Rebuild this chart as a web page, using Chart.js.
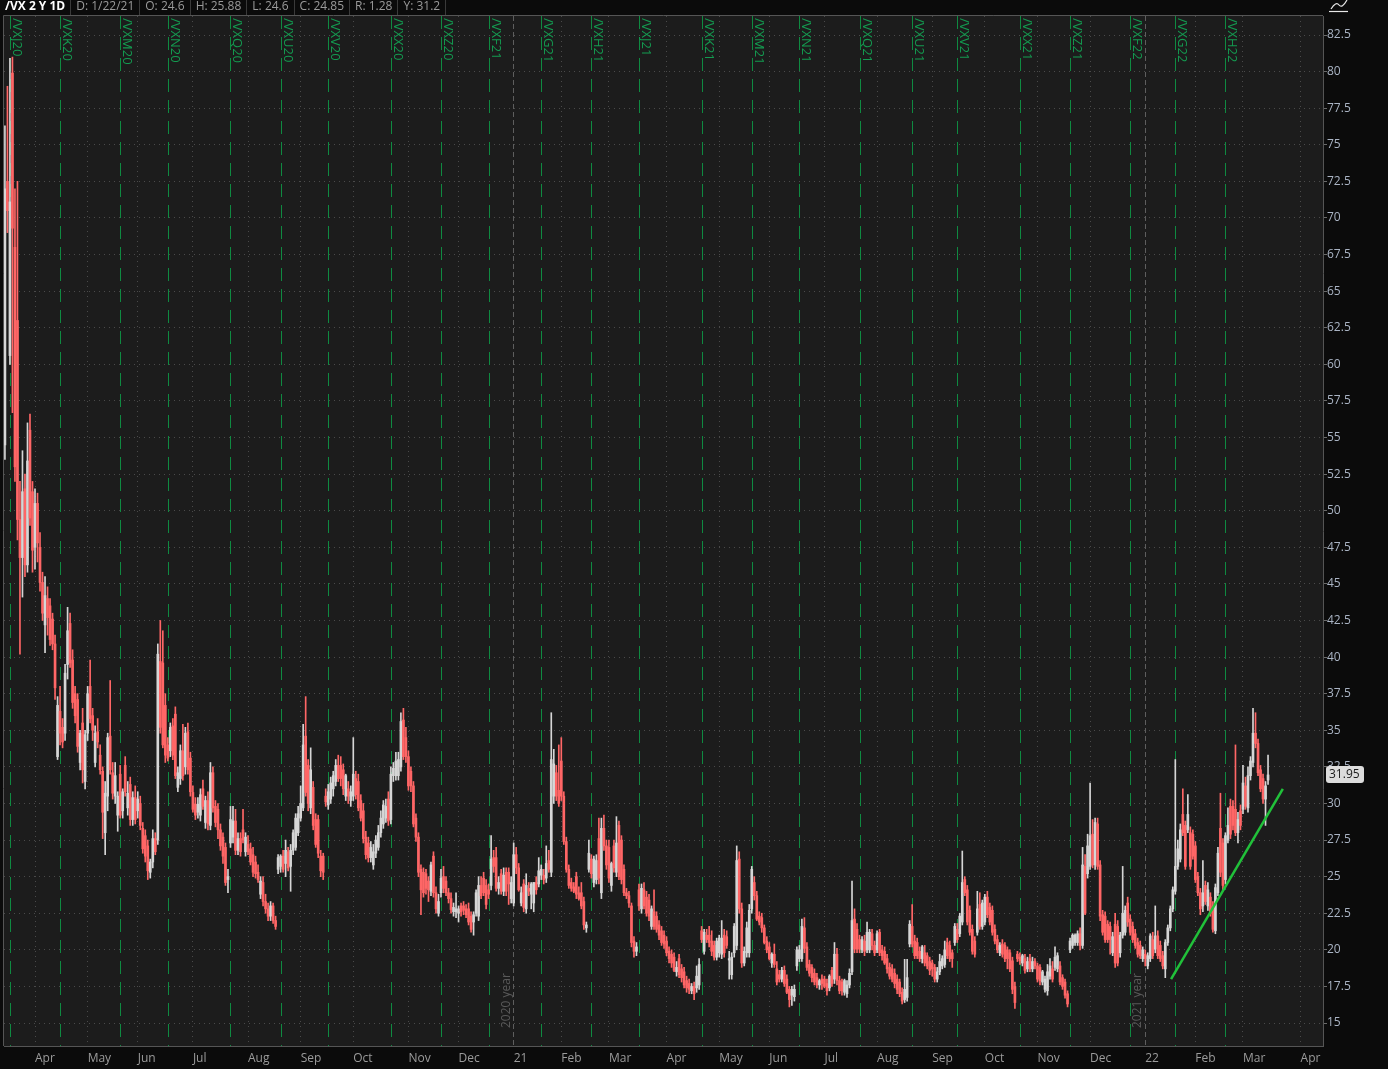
<!DOCTYPE html>
<html>
<head>
<meta charset="utf-8">
<title>/VX 2 Y 1D</title>
<script src="https://cdn.jsdelivr.net/npm/chart.js@4.4.1/dist/chart.umd.min.js"></script>
<style>
  html, body { margin: 0; padding: 0; background: #0b0b0b; overflow: hidden; }
  #wrap { width: 1388px; height: 1069px; position: relative; }
</style>
</head>
<body>
<div id="wrap"><canvas id="vxChart"></canvas></div>
<script>
// daily candles, [open, high, low, close], one per trading day from 3/16/20
const ohlc = [
  // Mar 2020
  [54.5,76.3,53.5,72],[72.5,79,69,70.5],[60.6,80.9,60,71.1],[79.9,81,56.7,69.3],[68,72,52,53],[63,72.5,48,49.4],
  [49.4,52,40.2,46.8],[46.8,54.1,44.1,51.3],[51.5,52.5,45.5,46.3],[46.3,56,45.8,53.4],[55.5,56.6,49,49.5],[51.3,52,45.8,47.3],
  // Apr
  [47.5,51.5,46,50.5],[50.5,51.2,46.5,47.8],[47.5,48.5,44.5,45.1],[45.1,45.8,42.5,43],[42.2,45.5,40.3,44.2],[44,44.8,41.5,42.7],
  [43.5,44,40.8,41.2],[42.6,43,40.5,40.9],[40.9,41.5,37.1,37.9],[33.2,37.3,33,36.7],[36.3,38,34,34.8],[35.2,35.8,33.8,34.2],
  [34.8,39.5,34.3,38.9],[39.5,43.4,38.5,41.8],[42.3,43,39.3,39.6],[39.8,40.5,36.5,36.9],[37.5,38,35.5,36],[37.1,37.5,33.5,33.9],
  [32.8,35,32.3,34.8],[35.5,36.5,31.4,32.3],[31.5,35,31,34.7],
  // May
  [34.8,38,34.3,37.5],[38,39.8,35.5,35.8],[36,36.5,34.3,35],[32.8,35.3,32.5,34.8],[34.9,35.8,33.8,34.2],[33.3,34,32,32.3],
  [32.2,32.5,27.6,29.4],[28,31.5,26.5,30.7],[30.5,34.8,29.5,34.5],[34.6,38.4,32,32.3],[32.1,32.8,30.3,30.7],[30.5,32.8,30,31.9],
  [29.2,30.8,28.1,30.5],[32,32.6,29,29.2],[29.5,31,29,30.8],[32.6,33.2,30.5,30.8],[29.7,31.5,29.2,30.7],[31.3,31.8,28.5,28.9],
  [28.9,30.8,28.5,30.4],[30.4,31.2,28.6,28.9],
  // Jun
  [29.5,30.8,29,30.3],[30,30.5,28.2,28.5],[28.3,28.7,26.6,26.9],[27.8,28.2,26,26.4],[27.1,27.5,24.8,25.4],[25.3,26.2,24.9,26],
  [26,28.2,25.6,27.6],[27.6,28,26.5,26.7],[27.5,40.9,27.2,40.2],[39.7,42.5,34.8,35.2],[39.6,41.8,33.8,34],[36.7,37.5,32.8,33.3],
  [34,34.5,32.9,33.1],[33.6,35.5,33.2,35.2],[35.3,35.8,33,33.3],[36.1,36.6,31.7,31.9],[31.1,32.5,30.8,32.1],[31.7,34,31.3,33.6],
  [33.6,35.4,31.6,31.9],[32.5,35.2,32,34.8],[34.9,35.5,32,32.3],[33.1,33.5,30.5,30.8],
  // Jul
  [30.75,31.2,29.4,29.6],[29.95,30.4,28.9,29.2],[29.4,30.4,29,29.95],[29.2,31,28.8,30.6],[31,31.6,29.6,29.8],[28.7,30.5,28.3,30.2],
  [30.2,30.8,28.2,28.6],[28.5,32.8,28.2,32.1],[32.1,32.5,29.4,29.7],[29.8,30.2,28.4,28.7],[29.6,30,27.6,28.2],[28.2,28.6,26.8,27.1],
  [27.7,28,25.9,26.4],[27,27.3,24.4,24.6],[24.8,25.5,23.9,25],[27.3,29.8,27,28.9],[27.7,29.8,27.3,28.8],[28.8,29.6,26.5,26.8],
  [26.8,28,26.5,27.6],[27.6,28,26.4,26.7],[28.2,29.6,27.3,27.5],[26.7,28,26.4,27.7],
  // Aug
  [27.2,27.8,26.5,26.7],[26.9,27.3,25.8,26],[26.5,27,25,25.3],[26,26.4,24.9,25.2],[25.3,25.8,24.6,24.8],[23.8,25,23.5,24.7],
  [24.6,25,23,23.3],[23.3,23.8,22.5,22.8],[22.8,23.2,22,22.3],[22.3,23.3,22,23],[23,23.2,21.8,22],[22,22.3,21.4,21.6],
  [25.5,26.5,25.2,26.3],[25.7,26.5,25.3,26.4],[26.4,26.8,25.3,25.5],[25.9,27.5,25,26.8],[26.7,27,25.4,25.6],[25.7,27.2,24,26.8],
  [26.8,28.2,26.5,28],[27,29.3,26.8,29],[28,29.8,27.8,29.3],
  // Sep
  [29,31.2,28.8,30],[29.7,35.4,29.5,34],[34.6,37.3,30.5,30.75],[32.6,33,29.5,30],[29.7,33.8,29.3,32.3],[31.1,31.5,28.2,28.5],
  [28.9,29.3,27,27.2],[28.9,29.2,26.3,26.6],[26.4,26.8,25,25.4],[26.4,26.6,24.8,25.3],[30.5,31,29.8,30.1],[29.9,31.3,29.6,30.8],
  [30.3,31.8,30,31.4],[31,32.2,30.5,31.9],[31.5,33,31.2,32.6],[32.6,33.3,31.5,31.7],[32.6,33.2,31.2,31.7],[32.3,32.7,30.6,31],
  [30.5,32,30.2,31.9],[31,31.5,30,30.5],[30.2,31.2,29.8,30.8],
  // Oct
  [30.5,34.5,30.2,32],[31.7,32.2,30.3,30.6],[31.5,32,29.5,29.7],[30.2,30.6,28.8,29],[29.5,30,27.3,27.6],[27.7,28.1,26.2,26.5],
  [27.3,27.7,26,26.3],[26.3,27.4,26,27],[25.8,27.2,25.5,26.7],[26.6,27.8,26.3,27.5],[27,28.5,26.8,28],[28,29.5,27.7,29],
  [28.6,30.2,28.3,29.9],[29,30.3,28.7,29.8],[30.3,30.8,28.5,28.8],[28.9,32.5,28.6,32],[31.9,32.8,31.5,32.4],[31.9,33.5,31.6,32.9],
  [31.9,33.5,31.6,33],[32.5,36.2,32.2,35.6],[35.7,36.5,33,33.2],[34.5,35.2,32.8,33.2],
  // Nov
  [33.2,33.6,30.9,31.2],[32.2,32.5,30.8,31.2],[31.2,31.5,28.4,28.6],[29,29.3,27.4,27.7],[27.7,28,25,25.3],[25.5,25.8,22.4,24.1],
  [25.3,25.6,23.6,23.9],[25.2,25.5,23.8,24.2],[24.7,25,23.3,24.1],[24,26,23.7,25.8],[26.4,26.7,23.6,23.9],[23.9,24.3,22.5,22.8],
  [22.5,23.8,22.3,23.3],[23.9,25.5,23.6,24.9],[25,25.7,23.9,24.2],[24.7,25,23.7,23.9],[23.9,24.2,23.2,23.5],[23.5,23.9,22.5,22.75],
  [22.6,23.2,22.3,22.9],[22.6,23.9,22.2,22.8],
  // Dec
  [22.5,23,21.9,22.8],[23,23.2,22.3,22.6],[23,23.3,22.4,22.7],[22.8,23.1,22.2,22.4],[22.8,23.2,21.7,21.9],[22.3,22.6,21.2,21.4],
  [21.9,22.6,21,22.4],[22.5,24.1,22.3,23.9],[22.3,25,22,24.4],[24.4,25,23.5,23.7],[24.9,25.3,23.7,23.9],[24.4,24.8,22.8,23.1],
  [24.1,24.5,23.5,23.8],[24.4,27.8,24.1,26.2],[26.3,26.8,25.3,25.7],[26.3,27,24,24.2],[24.2,25,23.8,24.6],[25.2,25.5,23.8,24],
  [24,25.6,23.7,25.1],[25.3,25.6,23.7,24],[25.3,25.6,23.1,24.5],[23.5,25,23.2,24.6],
  // Jan 2021
  [23.2,27.3,23,26.5],[26.5,27,25.2,25.6],[25.6,25.9,24,24.1],[23.2,24.3,23,23.9],[24.5,24.8,22.6,22.9],[22.8,25.2,22.5,24.4],
  [24.2,24.6,23.7,24],[23.8,24.6,22.8,24.5],[23.2,24.6,22.6,24.6],[24.6,25,23.8,24.1],[24.5,26.3,24.3,25.4],[25.1,25.8,24.8,25.5],
  [25.1,25.5,24.5,24.8],[24.9,27.1,24.6,25.9],[26.1,26.8,25.3,25.5],[25.3,36.2,25,33],[30.5,33.7,30,32.7],[32.1,32.6,30.2,30.5],
  [30.9,34,29.8,30],
  // Feb
  [32.9,34.5,30.2,30.5],[30.5,30.8,27.2,27.4],[27.4,27.7,25.3,25.5],[25.5,25.8,24.2,24.4],[24.6,24.9,24,24.2],[24.3,24.6,23.9,24],
  [25,25.3,23.5,23.8],[23.9,24.3,23.4,23.5],[23.9,24.6,22.8,23],[23.3,23.6,21.4,21.7],[21.5,21.9,21.2,21.7],[25.5,27.5,25.3,26.6],
  [26.2,26.5,24.9,25.2],[24.6,26.4,24.3,26.2],[24.8,26.5,24.5,26.1],[27.6,29,24.5,24.9],[23.9,29,23.5,28.3],[28.3,29.2,26.8,27.1],
  [27.1,27.5,25.5,25.8],
  // Mar
  [27,27.5,24.6,24.9],[24.4,26,24,25.9],[27.1,27.5,25.3,25.6],[25.3,29.1,25,27.3],[28.5,28.8,24.8,25],[27.5,27.8,24.5,24.8],
  [25.5,25.8,23.7,23.9],[23.9,24.2,23.5,23.7],[23.7,24,22.9,23.2],[23,23.2,20.2,20.5],[20.6,20.9,19.5,19.9],[19.9,20.5,19.6,20.2],
  [24.1,24.5,22.7,23],[22.8,24.5,22.5,24.2],[24.1,24.6,22.8,23],[23.6,24,22.3,22.5],[23.4,23.8,22,22.3],[21.6,23,21.4,22.8],
  [22.6,24.1,21.4,21.6],[22.3,22.6,21.2,21.4],[21.7,22,20.7,21],[21.3,21.6,20.3,20.5],[21,21.3,20.1,20.4],
  // Apr
  [20.6,20.9,19.6,19.8],[19.9,20.2,19.1,19.4],[19.7,20,18.8,19.1],[19.5,19.8,18.5,18.6],[18.5,19.2,18.2,18.8],[19.4,19.7,18.1,18.3],
  [18.7,19,17.8,18.1],[18.5,18.8,17.4,17.6],[17.9,18.2,17.1,17.4],[17.7,18,17,17.3],[17.2,17.7,17,17.5],[17.5,17.8,16.6,17],
  [17.4,18.9,17.1,18.2],[17.6,19.4,17.3,19],[21.3,21.6,20.5,20.7],[19.9,21.4,19.7,21.2],[21,21.4,20.5,20.7],[21,21.6,20.2,20.5],
  [20.6,21.3,19.6,19.9],[20.3,20.6,19.3,19.5],[19.5,20.8,19.3,20.6],
  // May
  [19.8,21,19.5,20.8],[19.7,22,19.4,20.8],[21,21.4,19.5,19.8],[20.9,21.3,20.1,20.3],[19.3,19.9,18,19.4],[18.3,19.8,18,19.5],
  [19.8,21.8,19.5,21.6],[20.3,27.1,20,26.1],[26.2,26.7,22.5,22.8],[22.8,23.2,18.8,19.1],[19.1,20.2,18.9,19.9],[19.8,21.9,19.5,21.5],
  [19.8,23.1,19.5,22.7],[22.8,25.7,22.5,25.5],[24.6,25,23.4,23.7],[23.7,24,22,22.1],[22.3,22.6,21.7,21.9],[22.2,22.5,21.2,21.5],
  [21.5,21.7,20.4,20.5],[20.6,20.9,19.8,20],
  // Jun
  [20.2,20.5,19.3,19.4],[19.1,19.8,18.8,19.7],[19.7,20.4,18.8,19],[18.7,19.2,17.6,17.8],[18.3,18.6,17.8,18],[18,18.8,17.8,18.6],
  [18.6,18.9,17.5,17.7],[18,18.3,17,17.1],[17.3,17.5,16.1,16.6],[16.9,17.5,16.2,17.3],[16.8,17.6,16.5,17.3],[18.9,20.2,18.6,20],
  [19.4,20.3,19.2,20],[19.4,22.1,19.2,21.6],[21.5,22.2,19.8,20.1],[20.2,20.5,18.6,18.8],[19,19.3,18.2,18.4],[18.8,19,17.8,18.1],
  [18.4,18.7,17.6,17.8],[18.1,18.4,17.4,17.6],[17.6,18,17.3,17.9],[18,18.3,17.3,17.7],
  // Jul
  [18,18.2,17.4,17.5],[17.7,18,16.9,17.2],[17.4,18.3,17.2,18.2],[18.6,18.8,17.5,17.7],[18,20.5,17.7,19.7],[19.7,20.1,17.6,17.9],
  [17.9,18.2,17,17.2],[17.8,18,16.9,17.2],[17.1,18,16.9,17.9],[17,17.9,16.75,17.6],[17.6,18.7,17.4,18.4],[18.5,24.7,18.3,22],
  [22.1,22.8,19.8,20.05],[21.4,21.8,19.8,20.05],[20.7,21,19.8,20.05],[20,20.9,19.8,20.7],[20.6,21,19.6,19.9],[20,21.9,19.8,21.2],
  [20,21.4,19.8,21.2],[21.1,21.4,20,20.3],[20.3,20.6,19.6,19.8],
  // Aug
  [20,21.3,19.8,21.1],[21.2,21.4,19.6,19.8],[20,20.3,19.3,19.6],[19.9,20.2,19,19.1],[19.4,19.7,18.4,18.7],[18.8,19.1,18,18.2],
  [18.7,19,17.8,18],[18.4,18.7,17.4,17.7],[18,18.3,17,17.3],[17.8,18,16.8,17],[17.1,17.4,16.3,16.5],[16.6,19.35,16.4,17.3],
  [16.75,19.35,16.5,18.1],[20.4,22,20.2,21.75],[21.6,23.1,20.2,20.4],[20.6,21,19.4,19.6],[20.5,20.8,19.4,19.6],[19.9,20.2,19.2,19.4],
  [19.4,20.3,19.1,20.2],[19.8,20.3,18.9,19.1],[19.6,19.8,18.7,18.9],[19.2,19.5,18.3,18.6],
  // Sep
  [19.1,19.3,18.2,18.7],[18.8,19,17.8,18],[18,18.8,17.8,18.5],[18.5,19.7,18.3,19.2],[18.9,19.6,18.7,19.4],[19,20.6,18.8,20],
  [20.5,20.8,19.4,19.6],[20.3,20.6,19.2,19.4],[19.8,20,18.8,19.4],[20.5,21.8,20.3,21.6],[21.4,21.8,20.5,20.7],[21.1,22.5,20.9,22.3],
  [21.9,26.75,21.7,24.6],[24.8,25,23.7,23.9],[24.1,24.4,21.7,21.9],[22.7,23,21,21.2],[21.4,21.7,19.7,19.9],[20.6,20.9,19.5,19.7],
  [21.2,24,21,22.8],[23.1,23.9,21.4,21.6],[21.6,23.4,21.4,23.2],
  // Oct
  [21.9,23.8,21.7,23.6],[23.6,24,22.2,22.4],[22.9,23.2,21.7,21.9],[22.7,23,21,21.2],[21.4,21.7,20.4,20.6],[20.7,21,19.8,20],
  [19.8,20.5,19.6,20.3],[20.4,20.7,19.5,19.7],[20.3,20.5,19.2,19.4],[20,20.2,18.7,19.4],[19.8,20,18.5,18.7],[19.25,19.5,17,17.3],
  [17.5,17.8,16,16.4],[19.7,19.9,19.2,19.4],[19.5,19.8,19,19.25],[19.1,19.7,18.9,19.6],[19.4,19.7,18.4,18.6],[18.7,19.5,18.5,19.2],
  [19.4,19.7,18.5,18.7],[18.7,19.5,18.5,19.2],[19.2,19.4,18.7,18.9],
  // Nov
  [18.9,19.1,17.8,18],[18.8,19,17.6,17.9],[17.8,18.6,17.6,18.5],[17.3,18.2,17.1,18],[17.2,19,16.9,18.5],[18.2,19.4,18,18.9],
  [18.7,19.2,17.8,18],[18.8,20.2,18.6,19.5],[18.7,19.8,18.5,19.6],[18.9,19.2,17.6,17.8],[18.1,18.3,17.3,17.5],[17.8,18,16.7,16.9],
  [17,17.2,16.1,16.3],[20,20.8,19.8,20.6],[20.3,21.1,20.1,21],[20.5,21.1,20.3,21],[20.5,21.3,20.3,21.1],[21.1,21.5,20,20.3],
  [20.3,27,20.1,25.8],[25.7,26.5,22.4,22.5],[25.2,27.9,24.9,27.1],
  // Dec
  [25.7,31.4,25.5,27.8],[27.9,28.9,25.6,25.8],[25.8,29,25.5,28.7],[28.6,29,25.5,25.7],[25.8,26.1,22,22.3],[22.4,22.7,21,21.2],
  [22.3,22.6,20.5,20.7],[21.75,22,20.5,20.7],[21.6,21.9,19.7,20.7],[19.8,21.2,19.6,20.9],[21.75,22.5,18.8,19.1],[21.6,22,18.9,19.1],
  [19.8,21.2,19.5,21],[21,25.7,20.8,22.5],[21.2,23,21,22.7],[23.2,23.6,21.6,21.9],[22.1,22.4,21,21.2],[21.6,21.9,20.5,20.7],
  [21.1,21.4,20.1,20.3],[20.5,20.8,19.5,19.7],[20.3,20.6,19.4,19.6],[19.4,20.2,19.2,20],
  // Jan 2022
  [19.7,20,18.9,19.4],[18.9,19.8,18.7,19.6],[19.4,21.1,19.2,20.95],[20.7,21.2,19.4,19.6],[20.05,23,19.8,20.95],[20.95,21.3,19.4,19.6],
  [20.3,20.6,19.2,19.4],[19.6,19.9,18.7,18.9],[18.7,20.7,18.1,20.5],[20.5,21.7,20.3,21.5],[21.5,23,21.3,22.8],[22.8,24.3,22.6,24.1],
  [24,33,23.8,25.7],[25.7,27.5,25.5,26.9],[26.2,28.6,26,28.2],[29.25,31,27.8,28],[28.5,28.8,25.5,25.7],[28.2,30.6,28,29.25],
  [28,28.4,25.5,25.7],[27.9,28.2,26.2,26.4],
  // Feb
  [27.1,27.4,24.6,24.8],[25,25.3,23.7,23.9],[23.9,24.2,22.4,22.8],[23,26.1,22.6,23.9],[24.4,24.7,23.1,23.3],[23,24.6,22.7,24.1],
  [23.6,23.9,22.3,22.5],[23,23.3,21.2,21.4],[21.3,24.5,21.1,24.25],[23.9,27,23.7,26.6],[28.3,30.7,25,25.3],[27.3,27.6,24.1,24.4],
  [24.8,28,24.5,27.8],[27.5,29.7,27.3,28.5],[29.8,30.3,27.6,27.9],[29.8,30.2,28.2,28.5],[29.6,34,27.8,28],[28,29.4,27.3,28.9],
  [29.5,29.9,28.2,28.5],
  // Mar
  [29.6,32.6,29.3,31.4],[31.2,31.8,29.6,29.8],[29.7,32.5,29.4,31.9],[31.9,33.2,31.6,32.9],[32.8,36.5,32.5,34.8],[34.8,36.2,33.8,34.1],
  [34.1,34.4,31.9,32.1],[32.3,32.6,30.8,31],[31.7,32,30,30.3],[30.3,31.5,28.5,31.2],[31.6,33.3,31.3,31.95]
];

// first trading day of each month (candle index) and its label
const monthIdx = [12, 33, 53, 75, 97, 118, 139, 161, 181, 203, 222, 241, 264, 285, 305, 327, 348, 370, 391, 412, 433, 455, 475, 494, 517];
const monthLabels = ['Apr', 'May', 'Jun', 'Jul', 'Aug', 'Sep', 'Oct', 'Nov', 'Dec', '21', 'Feb', 'Mar', 'Apr', 'May', 'Jun', 'Jul', 'Aug', 'Sep', 'Oct', 'Nov', 'Dec', '22', 'Feb', 'Mar', 'Apr'];

// futures expirations
const expiryIdx = [2, 22, 46, 65, 90, 110, 129, 154, 174, 193, 214, 234, 253, 278, 298, 317, 341, 362, 380, 405, 425, 449, 467, 487];
const expiryLabels = ['/VXJ20', '/VXK20', '/VXM20', '/VXN20', '/VXQ20', '/VXU20', '/VXV20', '/VXX20', '/VXZ20', '/VXF21', '/VXG21', '/VXH21',
  '/VXJ21', '/VXK21', '/VXM21', '/VXN21', '/VXQ21', '/VXU21', '/VXV21', '/VXX21', '/VXZ21', '/VXF22', '/VXG22', '/VXH22'];

const yearIdx = [203, 455];
const yearLabels = ['2020 year', '2021 year'];

const priceTicks = [15, 17.5, 20, 22.5, 25, 27.5, 30, 32.5, 35, 37.5, 40, 42.5, 45, 47.5, 50, 52.5, 55, 57.5, 60, 62.5, 65, 67.5, 70, 72.5, 75, 77.5, 80, 82.5];

const trendLine = [{x: 465.3, y: 18.0}, {x: 509.9, y: 31.0}];

const headerCells = ['/VX 2 Y 1D', 'D: 1/22/21', 'O: 24.6', 'H: 25.88', 'L: 24.6', 'C: 24.85', 'R: 1.28', 'Y: 31.2'];
const lastPrice = 31.95;

const UP = '#d6d6d6';
const DOWN = '#ff6666';
const FONT = '"Open Sans", "DejaVu Sans", sans-serif';

const candleColors = ohlc.map(d => d[3] >= d[0] ? UP : DOWN);
const wicks = ohlc.map((d, i) => ({x: i, y: [d[2], d[1]]}));
const bodies = ohlc.map((d, i) => ({x: i, y: [Math.min(d[0], d[3]), Math.max(d[0], d[3])]}));

const chartDecor = {
    id: 'chartDecor',
    beforeDraw(chart) {
        const {ctx, chartArea: a, width, height} = chart;
        ctx.save();
        ctx.fillStyle = '#0b0b0b';
        ctx.fillRect(0, 0, width, height);
        ctx.fillStyle = '#1c1c1c';
        ctx.fillRect(a.left, a.top, a.right - a.left, a.bottom - a.top);
        ctx.restore();
    },
    beforeDatasetsDraw(chart) {
        const {ctx, chartArea: a} = chart;
        const x = chart.scales.x;
        ctx.save();
        ctx.beginPath();
        ctx.rect(a.left, a.top, a.right - a.left, a.bottom - a.top);
        ctx.clip();

        // expiration lines
        ctx.strokeStyle = '#0f8a41';
        ctx.lineWidth = 1;
        ctx.setLineDash([13, 8]);
        expiryIdx.forEach(v => {
            const px = Math.round(x.getPixelForValue(v)) + 0.5;
            ctx.beginPath();
            ctx.moveTo(px, a.top);
            ctx.lineTo(px, a.bottom);
            ctx.stroke();
        });
        ctx.setLineDash([]);

        ctx.font = '13px ' + FONT;
        ctx.textAlign = 'left';
        ctx.textBaseline = 'middle';
        ctx.fillStyle = '#149a50';
        expiryIdx.forEach((v, k) => {
            const px = Math.round(x.getPixelForValue(v));
            ctx.save();
            ctx.translate(px + 7, a.top + 2);
            ctx.rotate(Math.PI / 2);
            ctx.fillText(expiryLabels[k], 0, 0);
            ctx.restore();
        });

        // year labels
        ctx.font = '12px ' + FONT;
        ctx.fillStyle = '#595959';
        yearIdx.forEach((v, k) => {
            const px = Math.round(x.getPixelForValue(v));
            ctx.save();
            ctx.translate(px - 7, a.bottom - 18);
            ctx.rotate(-Math.PI / 2);
            ctx.fillText(yearLabels[k], 0, 0);
            ctx.restore();
        });
        ctx.restore();
    },
    afterDraw(chart) {
        const {ctx, chartArea: a, width} = chart;
        const y = chart.scales.y;
        ctx.save();

        // top and left frame
        ctx.strokeStyle = '#555';
        ctx.lineWidth = 1;
        ctx.beginPath();
        ctx.moveTo(a.left - 0.5, a.bottom);
        ctx.lineTo(a.left - 0.5, a.top - 0.5);
        ctx.lineTo(a.right, a.top - 0.5);
        ctx.stroke();

        // header strip
        ctx.fillStyle = '#0b0b0b';
        ctx.fillRect(0, 0, width, a.top - 1);
        ctx.textBaseline = 'middle';
        ctx.textAlign = 'left';
        let cx = 5;
        headerCells.forEach((txt, k) => {
            ctx.font = (k === 0 ? 'bold 12px ' : '12px ') + FONT;
            ctx.fillStyle = k === 0 ? '#ffffff' : '#9a9a9a';
            ctx.fillText(txt, cx, 7);
            cx += ctx.measureText(txt).width + 5;
            ctx.fillStyle = '#3a3a3a';
            ctx.fillRect(Math.round(cx), 0, 1, a.top - 1);
            cx += 6;
        });

        // small chart icon top right
        ctx.strokeStyle = '#e8e8e8';
        ctx.lineWidth = 1.2;
        ctx.beginPath();
        ctx.moveTo(1331, 9);
        ctx.quadraticCurveTo(1336, 1, 1339, 5);
        ctx.quadraticCurveTo(1342, 9, 1347, 0);
        ctx.stroke();
        ctx.beginPath();
        ctx.moveTo(1329, 11.5);
        ctx.lineTo(1348, 11.5);
        ctx.stroke();

        // last price tag
        const py = y.getPixelForValue(lastPrice);
        ctx.fillStyle = '#dcdcdc';
        ctx.beginPath();
        ctx.roundRect(a.right + 3, py - 9, 38, 17, 3);
        ctx.fill();
        ctx.fillStyle = '#1a1a1a';
        ctx.font = '12px ' + FONT;
        ctx.fillText(lastPrice.toFixed(2), a.right + 6, py);
        ctx.restore();
    }
};

new Chart(document.getElementById('vxChart'), {
    type: 'bar',
    data: {
        datasets: [
            {
                type: 'line',
                data: trendLine,
                borderColor: '#21c13a',
                borderWidth: 2.5,
                pointRadius: 0,
                order: 0
            },
            {
                data: bodies,
                backgroundColor: candleColors,
                barThickness: 2,
                minBarLength: 1,
                grouped: false,
                borderWidth: 0,
                order: 1
            },
            {
                data: wicks,
                backgroundColor: candleColors,
                barThickness: 1,
                grouped: false,
                borderWidth: 0,
                order: 2
            }
        ]
    },
    options: {
        responsive: true,
        maintainAspectRatio: false,
        animation: false,
        layout: { padding: { top: 16, left: 4, right: 0, bottom: 0 } },
        plugins: {
            legend: { display: false },
            tooltip: { enabled: false }
        },
        scales: {
            x: {
                type: 'linear',
                min: -0.37,
                max: 525.93,
                offset: false,
                afterBuildTicks: scale => { scale.ticks = monthIdx.map(v => ({value: v})); },
                afterFit: scale => { scale.height = 23; },
                grid: {
                    offset: false,
                    drawTicks: false,
                    color: ctx => yearIdx.includes(ctx.tick && ctx.tick.value) ? '#5e5e5e' : '#4a4a4a'
                },
                border: {
                    color: '#555',
                    dash: ctx => yearIdx.includes(ctx.tick && ctx.tick.value) ? [5, 3] : [1, 4]
                },
                ticks: {
                    autoSkip: false,
                    maxRotation: 0,
                    minRotation: 0,
                    align: 'start',
                    padding: 5,
                    color: '#9b9b9b',
                    font: { family: FONT, size: 12 },
                    callback: v => {
                        const k = monthIdx.indexOf(v);
                        return k >= 0 ? monthLabels[k] : '';
                    }
                }
            },
            y: {
                position: 'right',
                min: 13.43,
                max: 83.8,
                afterBuildTicks: scale => { scale.ticks = priceTicks.map(v => ({value: v})); },
                afterFit: scale => { scale.width = 65; },
                grid: {
                    color: '#4a4a4a',
                    tickColor: '#6a6a6a',
                    tickLength: 4
                },
                border: { color: '#555', dash: [1, 4] },
                ticks: {
                    padding: 0,
                    color: '#aab4c4',
                    font: { family: FONT, size: 12 },
                    callback: v => String(v)
                }
            }
        }
    },
    plugins: [chartDecor]
});
</script>
</body>
</html>
